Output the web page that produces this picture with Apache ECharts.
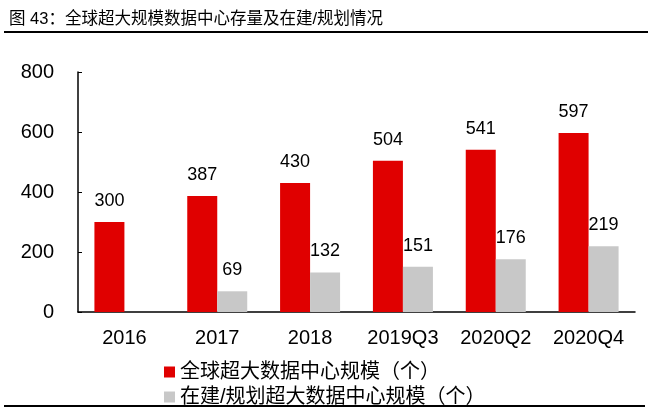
<!DOCTYPE html>
<html>
<head>
<meta charset="utf-8">
<script src="https://cdn.jsdelivr.net/npm/echarts@6/dist/echarts.min.js"></script>
<style>
  html, body { margin: 0; padding: 0; background: #fff; }
  #chart { width: 650px; height: 411px; }
</style>
</head>
<body>
<div id="chart"></div>
<script>
const categories = ['2016', '2017', '2018', '2019Q3', '2020Q2', '2020Q4'];
const existing = [300, 387, 430, 504, 541, 597];
const planned = [null, 69, 132, 151, 176, 219];
const seriesNames = ['全球超大数据中心规模（个）', '在建/规划超大数据中心规模（个）'];

const font = '"Liberation Sans", Arial, "Noto Sans CJK SC", sans-serif';

function legendRow(name, top) {
  return {
    data: [name],
    left: 159,
    top: top,
    itemWidth: 11,
    itemHeight: 11,
    icon: 'rect',
    textStyle: { fontSize: 20, color: '#000', fontFamily: font }
  };
}

function setChart() {
  const chart = echarts.init(document.querySelector('#chart'));

  const option = {
    animation: false,
    textStyle: { fontFamily: font, color: '#000' },
    title: {
      text: '图 43：全球超大规模数据中心存量及在建/规划情况',
      left: 4,
      top: 6,
      textStyle: { fontSize: 16.5, fontWeight: 'normal', color: '#000', fontFamily: font }
    },
    graphic: [
      // rule under the title
      { type: 'rect', shape: { x: 4, y: 31, width: 644, height: 2 }, style: { fill: '#000' } },
      // rule at the bottom
      { type: 'rect', shape: { x: 4, y: 405, width: 641, height: 2 }, style: { fill: '#000' } }
    ],
    legend: [
      legendRow(seriesNames[0], 357),
      legendRow(seriesNames[1], 382)
    ],
    grid: {
      left: 78,
      right: 15,
      top: 72,
      bottom: 99
    },
    xAxis: {
      type: 'category',
      data: categories,
      axisLine: { lineStyle: { color: '#000', width: 1.5 } },
      axisTick: { inside: true, length: 5, lineStyle: { color: '#000' } },
      axisLabel: { fontSize: 20, color: '#000', margin: 16 }
    },
    yAxis: {
      type: 'value',
      min: 0,
      max: 800,
      interval: 200,
      splitLine: { show: false },
      axisLine: { show: true, lineStyle: { color: '#000', width: 1.5 } },
      axisTick: { show: true, inside: true, length: 4, lineStyle: { color: '#000' } },
      axisLabel: { fontSize: 20, color: '#000', margin: 24 }
    },
    series: [
      {
        name: seriesNames[0],
        type: 'bar',
        data: existing,
        barWidth: 30,
        barGap: '0%',
        itemStyle: { color: '#E00000' },
        label: { show: true, position: 'top', distance: 12, fontSize: 18, color: '#000' }
      },
      {
        name: seriesNames[1],
        type: 'bar',
        data: planned,
        barWidth: 30,
        barGap: '0%',
        itemStyle: { color: '#C8C8C8' },
        label: { show: true, position: 'top', distance: 12, fontSize: 18, color: '#000' }
      }
    ]
  };

  chart.setOption(option);
}

setChart();
</script>
</body>
</html>
